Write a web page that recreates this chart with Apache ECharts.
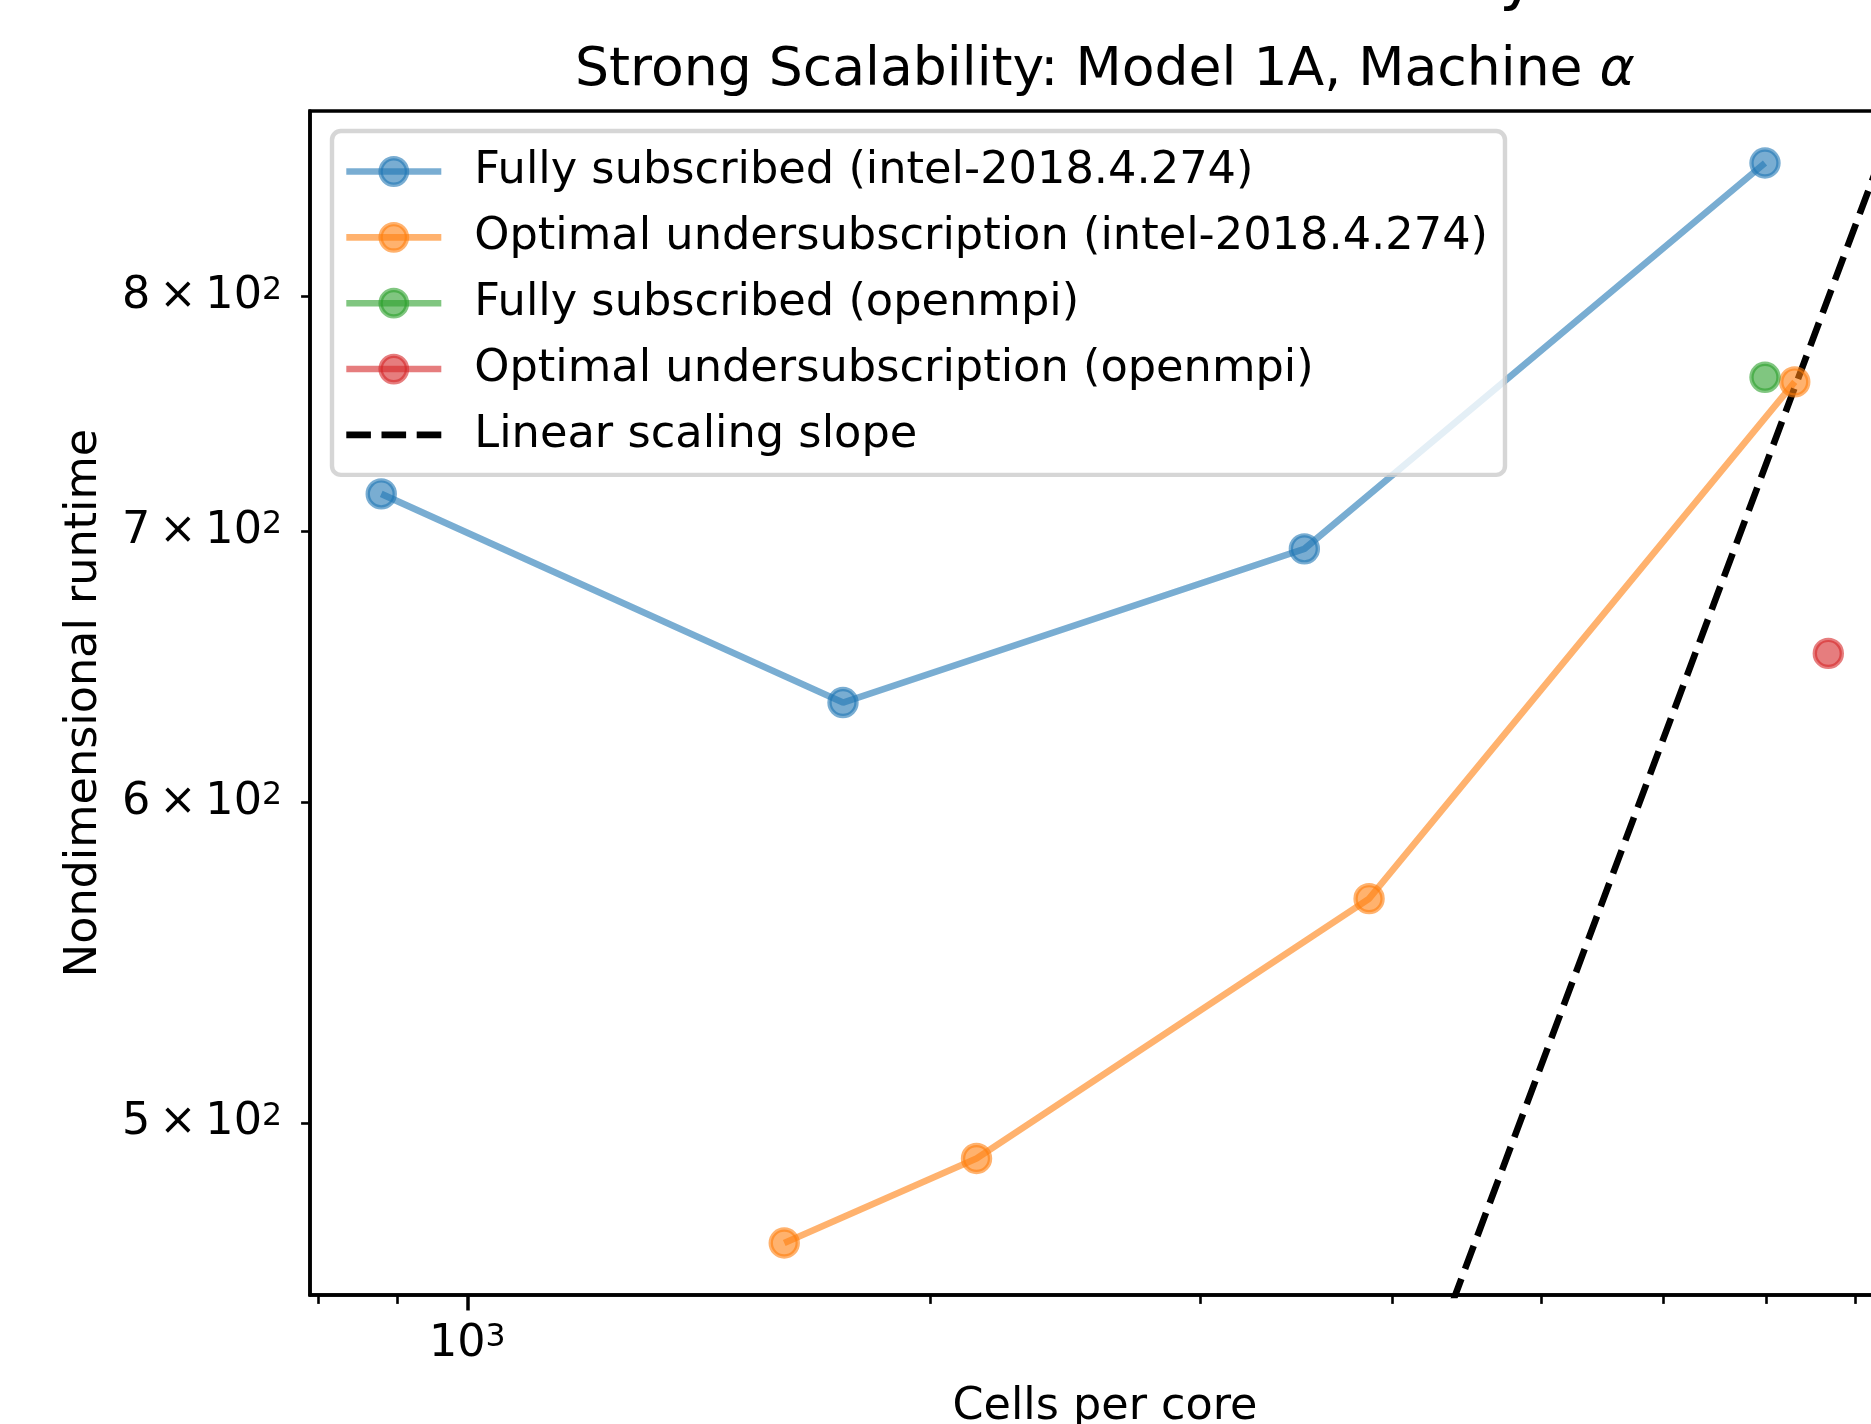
<!DOCTYPE html>
<html>
<head>
<meta charset="utf-8">
<title>Strong Scalability: Model 1A, Machine α</title>
<style>
    html, body { margin: 0; padding: 0; background: #fff; overflow: hidden; }
    #chart { width: 1871px; height: 1424px; }
</style>
</head>
<body>
<div id="chart"></div>
<script src="https://cdn.jsdelivr.net/npm/echarts@6/dist/echarts.min.js"></script>
<script>
// cells per core (x) and nondimensional runtime (y)
var fullIntelX = [879, 1756, 3506, 6992];
var fullIntelY = [715, 635, 693, 863];
var optIntelX = [1608, 2145, 3863, 7311];
var optIntelY = [467, 490, 568, 762];
var fullMpiX = [6992];
var fullMpiY = [764];
var optMpiX = [7688];
var optMpiY = [653];
// two ends of the linear scaling guide (both lie outside the axes, clipped)
var slopeX = [4220, 8935];
var slopeY = [435, 931];

var seriesNames = [
    'Fully subscribed (intel-2018.4.274)',
    'Optimal undersubscription (intel-2018.4.274)',
    'Fully subscribed (openmpi)',
    'Optimal undersubscription (openmpi)',
    'Linear scaling slope'
];

// axis limits and ticks (log axes)
var xRange = [790, 8560];
var yRange = [453.4, 888.9];
var xMajorTicks = [1000];
var xMinorTicks = [800, 900, 2000, 3000, 4000, 5000, 6000, 7000, 8000];
var yTicks = [500, 600, 700, 800];

var FONT = 'DejaVu Sans';
var FS = 44.5;
// mathtext-like superscript
var tickRich = {
    b: {fontFamily: FONT, fontSize: FS, lineHeight: 44, color: '#000'},
    s: {fontFamily: FONT, fontSize: 31.5, lineHeight: 16.6, verticalAlign: 'top', color: '#000'}
};

function lg(v) { return Math.log10(v); }
function pairs(xs, ys) {
    return xs.map(function (x, i) { return [lg(x), lg(ys[i])]; });
}
function mkSeries(name, rgb, xs, ys) {
    var c = 'rgba(' + rgb + ',0.6)';
    return {
        name: name,
        type: 'line',
        data: pairs(xs, ys),
        symbol: 'circle',
        symbolSize: 27,
        lineStyle: {color: c, width: 6.6},
        itemStyle: {color: c, borderColor: c, borderWidth: 4.4},
        emphasis: {disabled: true}
    };
}

var chart = echarts.init(document.getElementById('chart'));
var option = {
    animation: false,
    backgroundColor: '#fff',
    title: {
        text: 'Strong Scalability: Model 1A, Machine {i|α}',
        left: 1105,
        top: 44,
        padding: 0,
        textAlign: 'center',
        textStyle: {
            fontFamily: FONT, fontSize: 53.6, fontWeight: 'normal', color: '#000',
            rich: {i: {fontFamily: FONT, fontSize: 53.6, fontStyle: 'italic', color: '#000'}}
        }
    },
    // tail of the cut-off figure title at the very top
    graphic: [{
        type: 'text', x: 1499, y: -19,
        style: {text: 'y', fontFamily: FONT, fontSize: 64, fill: '#000', align: 'left', verticalAlign: 'middle'}
    }],
    legend: {
        orient: 'vertical',
        left: 332, top: 131,
        padding: [18, 17, 17.5, 11],
        itemWidth: 95, itemHeight: 33, itemGap: 20.85,
        selectedMode: false,
        backgroundColor: 'rgba(255,255,255,0.8)',
        borderColor: 'rgba(204,204,204,0.8)',
        borderWidth: 4.4,
        borderRadius: 8.9,
        itemStyle: {borderWidth: 4.4},
        lineStyle: {width: 6.6},
        textStyle: {fontFamily: FONT, fontSize: 44.7, color: '#000', lineHeight: 44, padding: [0, 0, 0, 28]},
        data: [
            seriesNames[0], seriesNames[1], seriesNames[2], seriesNames[3],
            {name: seriesNames[4], itemStyle: {opacity: 0}}
        ]
    },
    grid: {
        left: 310, right: -29, top: 111, bottom: 129,
        show: true, borderColor: '#000', borderWidth: 3.5,
        containLabel: false, outerBoundsMode: 'none'
    },
    xAxis: [{
        type: 'value',
        min: lg(xRange[0]), max: lg(xRange[1]),
        position: 'bottom',
        axisLine: {show: true, onZero: false, lineStyle: {color: '#000', width: 3.5}},
        axisTick: {show: true, customValues: xMajorTicks.map(lg), length: 15.5, lineStyle: {color: '#000', width: 3.5}},
        axisLabel: {
            customValues: xMajorTicks.map(lg), margin: 27,
            fontFamily: FONT, fontSize: FS, color: '#000', rich: tickRich,
            formatter: function (v) { return '{b|10}{s|' + Math.round(v) + '}'; }
        },
        splitLine: {show: false},
        name: 'Cells per core', nameLocation: 'middle', nameGap: 90,
        nameTextStyle: {fontFamily: FONT, fontSize: FS, color: '#000'}
    }, {
        type: 'value',
        min: lg(xRange[0]), max: lg(xRange[1]),
        position: 'bottom',
        axisLine: {show: false},
        axisTick: {show: true, customValues: xMinorTicks.map(lg), length: 8.9, lineStyle: {color: '#000', width: 2.6}},
        axisLabel: {show: false},
        splitLine: {show: false}
    }],
    yAxis: {
        type: 'value',
        min: lg(yRange[0]), max: lg(yRange[1]),
        axisLine: {show: true, onZero: false, lineStyle: {color: '#000', width: 3.5}},
        axisTick: {show: true, customValues: yTicks.map(lg), length: 8.9, lineStyle: {color: '#000', width: 2.6}},
        axisLabel: {
            customValues: yTicks.map(lg), margin: 28,
            fontFamily: FONT, fontSize: FS, color: '#000', rich: tickRich,
            formatter: function (v) {
                return '{b|' + Math.round(Math.pow(10, v) / 100) + '\u2009\u00d7\u200910}{s|2}';
            }
        },
        splitLine: {show: false},
        name: 'Nondimensional runtime', nameLocation: 'middle', nameGap: 203, nameRotate: 90,
        nameTextStyle: {fontFamily: FONT, fontSize: FS, color: '#000'}
    },
    series: [
        mkSeries(seriesNames[0], '31,119,180', fullIntelX, fullIntelY),
        mkSeries(seriesNames[1], '255,127,14', optIntelX, optIntelY),
        mkSeries(seriesNames[2], '44,160,44', fullMpiX, fullMpiY),
        mkSeries(seriesNames[3], '214,39,40', optMpiX, optMpiY),
        {
            name: seriesNames[4],
            type: 'line',
            data: pairs(slopeX, slopeY),
            symbol: 'none',
            lineStyle: {color: '#000', width: 6.6, type: [24.6, 10.6]},
            itemStyle: {color: '#000'},
            emphasis: {disabled: true}
        }
    ]
};
chart.setOption(option);
</script>
</body>
</html>
